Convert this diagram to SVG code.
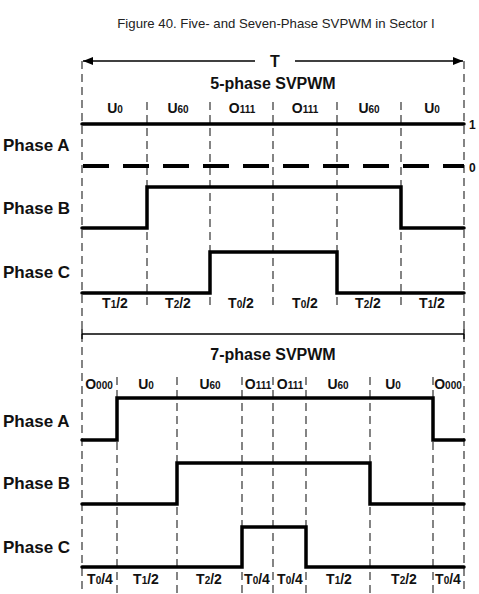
<svg xmlns="http://www.w3.org/2000/svg" width="479" height="594" viewBox="0 0 479 594">
  <style>
    .title { font-family: "Liberation Sans", Arial, sans-serif; font-size: 13.2px; fill: #222; }
    .hdr { font-family: "Liberation Sans", Arial, sans-serif; font-weight: bold; font-size: 16px; fill: #111; }
    .ph { font-family: "Liberation Sans", Arial, sans-serif; font-weight: bold; font-size: 17px; fill: #111; }
    .lbl { font-family: "Liberation Sans", Arial, sans-serif; font-weight: bold; font-size: 14px; fill: #111; text-anchor: middle; }
    .sub { font-size: 10px; }
    .lvl { font-family: "Liberation Sans", Arial, sans-serif; font-weight: bold; font-size: 12px; fill: #111; }
    .grid { stroke: #333; stroke-width: 1.2; stroke-dasharray: 8 5; fill: none; }
    .wave { stroke: #000; stroke-width: 3.5; fill: none; stroke-linejoin: miter; stroke-linecap: round; }
    .zero { stroke: #000; stroke-width: 4; fill: none; stroke-dasharray: 26 14; }
    .thin { stroke: #000; stroke-width: 1.3; fill: none; }
  </style>
  <defs>
    <marker id="ah" viewBox="0 0 10 8" refX="10" refY="4" markerWidth="12" markerHeight="8" markerUnits="userSpaceOnUse" orient="auto">
      <path d="M0,0 L10,4 L0,8 Z" fill="#000"/>
    </marker>
  </defs>
  <rect width="479" height="594" fill="#fff"/>

  <text class="title" x="276" y="28" text-anchor="middle">Figure 40. Five- and Seven-Phase SVPWM in Sector I</text>

  <g id="period">
    <line class="thin" x1="255" y1="61" x2="83" y2="61" marker-end="url(#ah)" stroke-width="1.6"/>
    <line class="thin" x1="295" y1="61" x2="463" y2="61" marker-end="url(#ah)" stroke-width="1.6"/>
    <text class="hdr" x="275" y="67" text-anchor="middle" font-size="17">T</text>
  </g>

  <g id="grid">
    <line class="grid" x1="82" y1="61" x2="82" y2="594"/>
    <line class="grid" x1="464" y1="61" x2="464" y2="594"/>
    <line class="grid" x1="147" y1="102" x2="147" y2="310"/>
    <line class="grid" x1="210" y1="102" x2="210" y2="310"/>
    <line class="grid" x1="273" y1="102" x2="273" y2="310"/>
    <line class="grid" x1="337" y1="102" x2="337" y2="310"/>
    <line class="grid" x1="401" y1="102" x2="401" y2="310"/>
    <line class="grid" x1="117" y1="377" x2="117" y2="594"/>
    <line class="grid" x1="177" y1="377" x2="177" y2="594"/>
    <line class="grid" x1="242" y1="377" x2="242" y2="594"/>
    <line class="grid" x1="273" y1="377" x2="273" y2="594"/>
    <line class="grid" x1="306" y1="377" x2="306" y2="594"/>
    <line class="grid" x1="370" y1="377" x2="370" y2="594"/>
    <line class="grid" x1="433" y1="377" x2="433" y2="594"/>
  </g>

  <g id="five-phase">
    <text class="hdr" x="273" y="89" text-anchor="middle">5-phase SVPWM</text>
    <g id="five-top-labels">
      <text class="lbl" x="115" y="113">U<tspan class="sub">0</tspan></text>
      <text class="lbl" x="178" y="113">U<tspan class="sub">60</tspan></text>
      <text class="lbl" x="242" y="113">O<tspan class="sub">111</tspan></text>
      <text class="lbl" x="305" y="113">O<tspan class="sub">111</tspan></text>
      <text class="lbl" x="369" y="113">U<tspan class="sub">60</tspan></text>
      <text class="lbl" x="432" y="113">U<tspan class="sub">0</tspan></text>
    </g>
    <text class="ph" x="3" y="151">Phase A</text>
    <text class="ph" x="3" y="214">Phase B</text>
    <text class="ph" x="3" y="278">Phase C</text>
    <path id="five-A" class="wave" d="M82,124 H464"/>
    <path id="five-A0" class="zero" d="M83,166 H464"/>
    <path id="five-B" class="wave" d="M82,228 H147 V187 H401 V228 H464"/>
    <path id="five-C" class="wave" d="M82,293 H210 V252 H337 V293 H464"/>
    <text class="lvl" x="469" y="129">1</text>
    <text class="lvl" x="469" y="172">0</text>
    <g id="five-bottom-labels">
      <text class="lbl" x="115" y="308">T<tspan class="sub">1</tspan>/2</text>
      <text class="lbl" x="178" y="308">T<tspan class="sub">2</tspan>/2</text>
      <text class="lbl" x="241" y="308">T<tspan class="sub">0</tspan>/2</text>
      <text class="lbl" x="305" y="308">T<tspan class="sub">0</tspan>/2</text>
      <text class="lbl" x="368" y="308">T<tspan class="sub">2</tspan>/2</text>
      <text class="lbl" x="432" y="308">T<tspan class="sub">1</tspan>/2</text>
    </g>
  </g>

  <g id="separator">
    <line class="thin" x1="82" y1="334" x2="464" y2="334" stroke-width="1"/>
    <line class="thin" x1="82" y1="329" x2="82" y2="339" stroke-width="1"/>
    <line class="thin" x1="464" y1="329" x2="464" y2="339" stroke-width="1"/>
  </g>

  <g id="seven-phase">
    <text class="hdr" x="273" y="360" text-anchor="middle">7-phase SVPWM</text>
    <g id="seven-top-labels">
      <text class="lbl" x="99" y="389">O<tspan class="sub">000</tspan></text>
      <text class="lbl" x="146" y="389">U<tspan class="sub">0</tspan></text>
      <text class="lbl" x="210" y="389">U<tspan class="sub">60</tspan></text>
      <text class="lbl" x="258" y="389">O<tspan class="sub">111</tspan></text>
      <text class="lbl" x="290" y="389">O<tspan class="sub">111</tspan></text>
      <text class="lbl" x="338" y="389">U<tspan class="sub">60</tspan></text>
      <text class="lbl" x="393" y="389">U<tspan class="sub">0</tspan></text>
      <text class="lbl" x="448" y="389">O<tspan class="sub">000</tspan></text>
    </g>
    <text class="ph" x="3" y="427">Phase A</text>
    <text class="ph" x="3" y="489">Phase B</text>
    <text class="ph" x="3" y="553">Phase C</text>
    <path id="seven-A" class="wave" d="M82,440 H117 V398 H433 V440 H464"/>
    <path id="seven-B" class="wave" d="M82,504 H177 V463 H370 V504 H464"/>
    <path id="seven-C" class="wave" d="M82,567 H242 V527 H306 V567 H464"/>
    <g id="seven-bottom-labels">
      <text class="lbl" x="100" y="584">T<tspan class="sub">0</tspan>/4</text>
      <text class="lbl" x="146" y="584">T<tspan class="sub">1</tspan>/2</text>
      <text class="lbl" x="209" y="584">T<tspan class="sub">2</tspan>/2</text>
      <text class="lbl" x="257" y="584">T<tspan class="sub">0</tspan>/4</text>
      <text class="lbl" x="290" y="584">T<tspan class="sub">0</tspan>/4</text>
      <text class="lbl" x="339" y="584">T<tspan class="sub">1</tspan>/2</text>
      <text class="lbl" x="404" y="584">T<tspan class="sub">2</tspan>/2</text>
      <text class="lbl" x="448" y="584">T<tspan class="sub">0</tspan>/4</text>
    </g>
  </g>
</svg>
